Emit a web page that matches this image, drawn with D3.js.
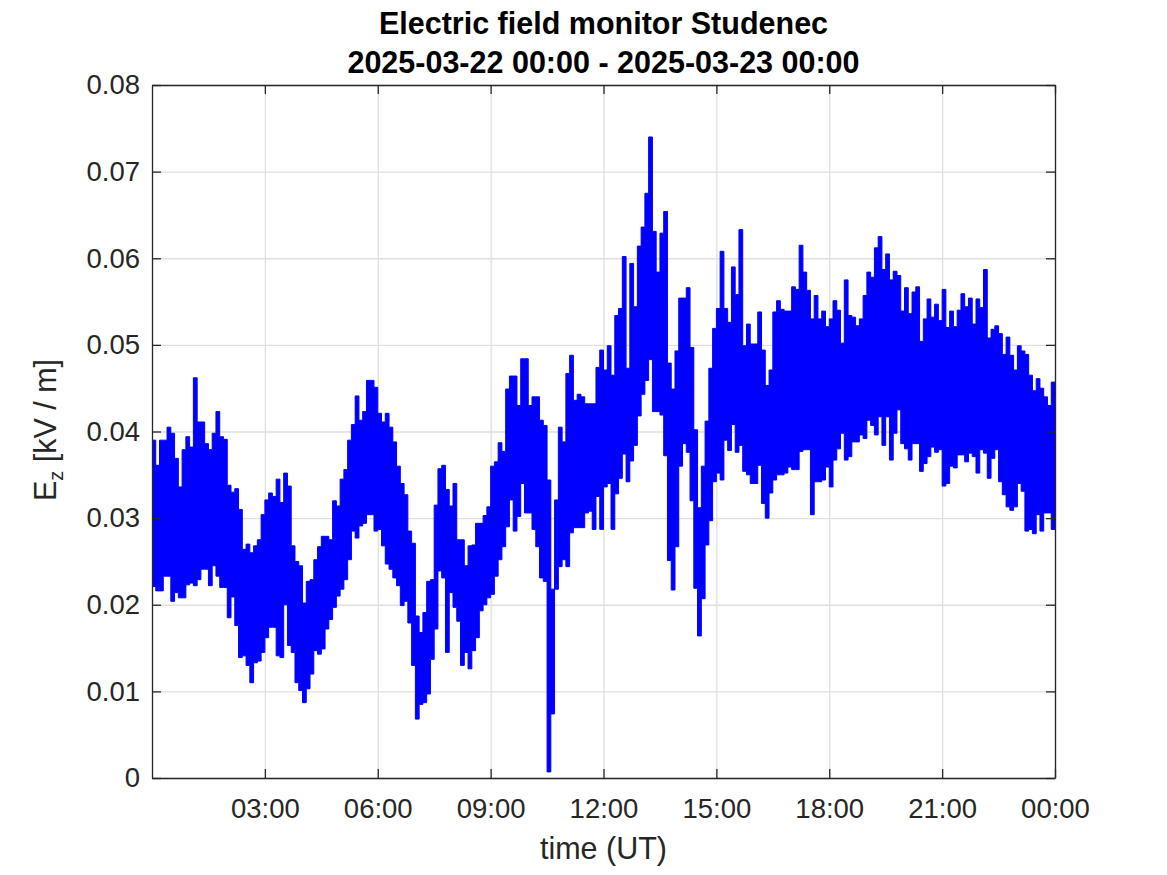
<!DOCTYPE html>
<html><head><meta charset="utf-8">
<script src="https://cdn.jsdelivr.net/npm/d3@7"></script>
<style>
body{margin:0;background:#fff}
text{font-family:"Liberation Sans",Arial,Helvetica,sans-serif}
</style>
</head><body>
<svg id="c" width="1167" height="875"></svg>
<script>
// ---------- data ----------
const titleLines = ["Electric field monitor Studenec", "2025-03-22 00:00 - 2025-03-23 00:00"];
const startTime = "2025-03-22T00:00:00Z";
const endTime = "2025-03-23T00:00:00Z";
const binMinutes = 6; // per 6-minute bin: the lowest and highest Ez reached
const ezHigh = [
0.0390,0.0361,0.0390,0.0390,0.0405,0.0398,0.0369,0.0336,0.0379,0.0394,
0.0382,0.0462,0.0411,0.0411,0.0386,0.0379,0.0398,0.0423,0.0394,0.0391,
0.0338,0.0330,0.0334,0.0310,0.0264,0.0270,0.0260,0.0268,0.0275,0.0304,
0.0321,0.0329,0.0325,0.0345,0.0318,0.0352,0.0337,0.0268,0.0250,0.0245,
0.0202,0.0227,0.0229,0.0252,0.0267,0.0279,0.0279,0.0275,0.0320,0.0314,
0.0345,0.0356,0.0390,0.0408,0.0441,0.0413,0.0423,0.0459,0.0459,0.0451,
0.0421,0.0411,0.0421,0.0405,0.0388,0.0360,0.0340,0.0327,0.0285,0.0271,
0.0187,0.0168,0.0191,0.0227,0.0229,0.0315,0.0357,0.0361,0.0333,0.0314,
0.0340,0.0275,0.0275,0.0245,0.0268,0.0269,0.0294,0.0294,0.0303,0.0313,
0.0360,0.0365,0.0387,0.0377,0.0449,0.0464,0.0464,0.0430,0.0484,0.0484,
0.0430,0.0440,0.0440,0.0413,0.0407,0.0344,0.0218,0.0321,0.0405,0.0388,
0.0467,0.0488,0.0436,0.0443,0.0440,0.0432,0.0432,0.0432,0.0474,0.0494,
0.0471,0.0499,0.0465,0.0534,0.0542,0.0602,0.0473,0.0594,0.0544,0.0614,
0.0636,0.0675,0.0740,0.0631,0.0584,0.0629,0.0654,0.0479,0.0449,0.0493,
0.0554,0.0554,0.0566,0.0497,0.0402,0.0312,0.0360,0.0412,0.0473,0.0519,
0.0542,0.0608,0.0542,0.0526,0.0590,0.0558,0.0633,0.0499,0.0524,0.0501,
0.0501,0.0538,0.0494,0.0453,0.0471,0.0538,0.0551,0.0541,0.0539,0.0539,
0.0567,0.0564,0.0615,0.0584,0.0563,0.0530,0.0557,0.0530,0.0539,0.0521,
0.0530,0.0551,0.0540,0.0502,0.0575,0.0534,0.0532,0.0522,0.0530,0.0557,
0.0584,0.0578,0.0612,0.0625,0.0587,0.0605,0.0575,0.0585,0.0580,0.0539,
0.0566,0.0536,0.0561,0.0567,0.0504,0.0530,0.0553,0.0532,0.0547,0.0528,
0.0564,0.0520,0.0539,0.0521,0.0540,0.0559,0.0544,0.0554,0.0524,0.0553,
0.0543,0.0587,0.0508,0.0518,0.0522,0.0513,0.0489,0.0509,0.0488,0.0471,
0.0499,0.0493,0.0489,0.0465,0.0447,0.0461,0.0450,0.0440,0.0430,0.0457
];
const ezLow = [
0.0221,0.0216,0.0216,0.0233,0.0233,0.0204,0.0214,0.0208,0.0208,0.0223,
0.0225,0.0222,0.0229,0.0241,0.0241,0.0222,0.0245,0.0233,0.0220,0.0220,
0.0185,0.0209,0.0176,0.0139,0.0141,0.0130,0.0110,0.0133,0.0135,0.0145,
0.0162,0.0174,0.0174,0.0141,0.0139,0.0200,0.0153,0.0145,0.0110,0.0101,
0.0087,0.0103,0.0120,0.0147,0.0143,0.0149,0.0172,0.0183,0.0197,0.0210,
0.0218,0.0229,0.0252,0.0285,0.0277,0.0291,0.0294,0.0304,0.0304,0.0285,
0.0287,0.0268,0.0247,0.0241,0.0231,0.0222,0.0199,0.0204,0.0179,0.0130,
0.0068,0.0085,0.0087,0.0097,0.0137,0.0172,0.0239,0.0231,0.0145,0.0214,
0.0197,0.0181,0.0130,0.0145,0.0126,0.0147,0.0162,0.0193,0.0200,0.0208,
0.0212,0.0233,0.0252,0.0267,0.0290,0.0321,0.0285,0.0302,0.0340,0.0306,
0.0306,0.0287,0.0267,0.0231,0.0227,0.0007,0.0074,0.0218,0.0244,0.0252,
0.0244,0.0283,0.0289,0.0289,0.0289,0.0306,0.0308,0.0287,0.0325,0.0287,
0.0336,0.0340,0.0287,0.0328,0.0346,0.0374,0.0342,0.0366,0.0384,0.0418,
0.0443,0.0459,0.0483,0.0423,0.0423,0.0419,0.0372,0.0251,0.0217,0.0267,
0.0360,0.0386,0.0376,0.0320,0.0219,0.0164,0.0207,0.0269,0.0297,0.0342,
0.0352,0.0344,0.0390,0.0378,0.0408,0.0376,0.0384,0.0354,0.0350,0.0340,
0.0340,0.0361,0.0317,0.0300,0.0329,0.0344,0.0350,0.0350,0.0352,0.0359,
0.0356,0.0356,0.0377,0.0379,0.0379,0.0304,0.0342,0.0342,0.0344,0.0359,
0.0336,0.0367,0.0380,0.0398,0.0367,0.0371,0.0388,0.0388,0.0396,0.0392,
0.0413,0.0407,0.0396,0.0417,0.0384,0.0417,0.0367,0.0398,0.0425,0.0386,
0.0380,0.0367,0.0386,0.0386,0.0354,0.0363,0.0371,0.0382,0.0376,0.0379,
0.0337,0.0340,0.0360,0.0358,0.0373,0.0373,0.0365,0.0375,0.0371,0.0352,
0.0379,0.0375,0.0346,0.0369,0.0379,0.0342,0.0327,0.0313,0.0309,0.0313,
0.0340,0.0331,0.0285,0.0287,0.0282,0.0304,0.0285,0.0306,0.0306,0.0287
];
const xTickHours = [3, 6, 9, 12, 15, 18, 21, 24];
const yTickValues = [0, 0.01, 0.02, 0.03, 0.04, 0.05, 0.06, 0.07, 0.08];
const xAxisLabel = "time (UT)";
const yAxisLabelMain = "E";
const yAxisLabelSub = "z";
const yAxisLabelUnit = " [kV / m]";

// ---------- layout ----------
const P = {l: 152, r: 1055, t: 85, b: 778};
const ink = "#262626";
const svg = d3.select("#c");

const t0 = new Date(startTime), t1 = new Date(endTime);
const x = d3.scaleUtc().domain([t0, t1]).range([P.l, P.r]);
const y = d3.scaleLinear().domain([0, 0.08]).range([P.b, P.t]);
const xTicks = xTickHours.map(h => d3.utcHour.offset(t0, h));

// grid
const gridColor = "#dfdfdf";
svg.append("g").attr("transform", `translate(0,${P.b})`)
  .call(d3.axisBottom(x).tickValues(xTicks).tickSize(-(P.b - P.t)).tickFormat(""))
  .call(g => g.select(".domain").remove())
  .selectAll("line").attr("stroke", gridColor).attr("stroke-width", 1.3);
svg.append("g").attr("transform", `translate(${P.l},0)`)
  .call(d3.axisLeft(y).tickValues(yTickValues).tickSize(-(P.r - P.l)).tickFormat(""))
  .call(g => g.select(".domain").remove())
  .selectAll("line").attr("stroke", gridColor).attr("stroke-width", 1.3);

// data: min-max band per bin, drawn as vertical columns (as a dense trace renders)
const bins = ezLow.map((v, i) => ({t: d3.utcMinute.offset(t0, i * binMinutes), lo: v, hi: ezHigh[i]}));
bins.push({t: t1, lo: ezLow[ezLow.length - 1], hi: ezHigh[ezHigh.length - 1]});
svg.append("clipPath").attr("id", "clip").append("rect")
  .attr("x", P.l).attr("y", P.t).attr("width", P.r - P.l).attr("height", P.b - P.t);
svg.append("path").datum(bins)
  .attr("clip-path", "url(#clip)")
  .attr("fill", "#0000ff").attr("stroke", "#0000ff").attr("stroke-width", 1)
  .attr("stroke-linejoin", "miter")
  .attr("d", d3.area().curve(d3.curveStepAfter).x(d => x(d.t)).y0(d => y(d.lo)).y1(d => y(d.hi)));

// axes
const tickFs = 27.5;
function styleAxis(g) {
  g.select(".domain").attr("stroke", ink).attr("stroke-width", 1.3);
  g.selectAll(".tick line").attr("stroke", ink).attr("stroke-width", 1.3);
  g.selectAll("text").attr("fill", ink).attr("font-size", tickFs).attr("font-family", null);
}
svg.append("g").attr("transform", `translate(0,${P.b})`)
  .call(d3.axisBottom(x).tickValues(xTicks).tickSizeInner(-9).tickSizeOuter(0).tickPadding(20.5)
    .tickFormat(d => d3.utcFormat("%H:%M")(d)))
  .call(styleAxis);
svg.append("g").attr("transform", `translate(0,${P.t})`)
  .call(d3.axisTop(x).tickValues(xTicks).tickSizeInner(-9).tickSizeOuter(0).tickFormat(""))
  .call(styleAxis);
svg.append("g").attr("transform", `translate(${P.l},0)`)
  .call(d3.axisLeft(y).tickValues(yTickValues).tickSizeInner(-9).tickSizeOuter(0).tickPadding(12)
    .tickFormat(d => d === 0 ? "0" : d3.format(".2f")(d)))
  .call(styleAxis);
svg.append("g").attr("transform", `translate(${P.r},0)`)
  .call(d3.axisRight(y).tickValues(yTickValues).tickSizeInner(-9).tickSizeOuter(0).tickFormat(""))
  .call(styleAxis);

// titles
const cx = (P.l + P.r) / 2;
svg.append("text").attr("x", cx).attr("y", 34).attr("text-anchor", "middle")
  .attr("font-size", 30.5).attr("font-weight", "bold").attr("fill", "#000").text(titleLines[0]);
svg.append("text").attr("x", cx).attr("y", 72.5).attr("text-anchor", "middle")
  .attr("font-size", 30.5).attr("font-weight", "bold").attr("fill", "#000").text(titleLines[1]);

svg.append("text").attr("x", cx).attr("y", 859).attr("text-anchor", "middle")
  .attr("font-size", 30.5).attr("fill", ink).text(xAxisLabel);

const yl = svg.append("text").attr("transform", `translate(56,430) rotate(-90)`)
  .attr("text-anchor", "middle").attr("font-size", 30.5).attr("fill", ink);
yl.append("tspan").text(yAxisLabelMain);
yl.append("tspan").attr("font-size", 20).attr("dy", 7).text(yAxisLabelSub);
yl.append("tspan").attr("dy", -7).text(yAxisLabelUnit);
</script>
</body></html>
